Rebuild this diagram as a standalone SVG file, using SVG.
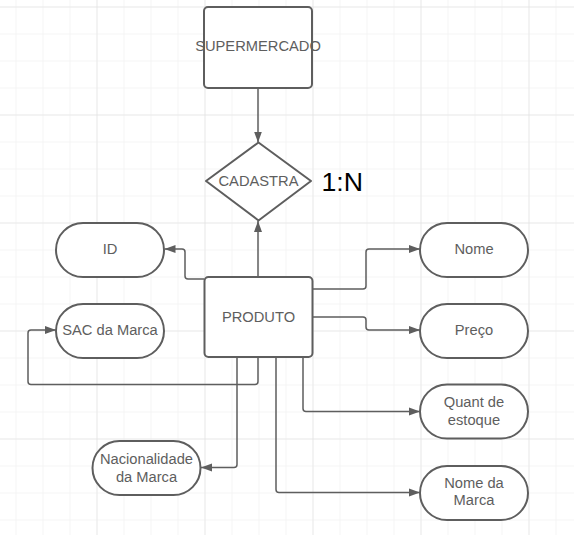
<svg xmlns="http://www.w3.org/2000/svg" width="574" height="535" viewBox="0 0 574 535">
<defs>
<pattern id="minor" x="15.5" y="6.5" width="27" height="27" patternUnits="userSpaceOnUse">
<path d="M0,0 V27 M0,0 H27" fill="none" stroke="#ececec" stroke-width="1"/>
</pattern>
<pattern id="major" x="96.5" y="6.5" width="108" height="108" patternUnits="userSpaceOnUse">
<path d="M0,0 V108 M0,0 H108" fill="none" stroke="#dedede" stroke-width="1"/>
</pattern>
<marker id="arr" markerWidth="12" markerHeight="9" refX="11" refY="4.5" orient="auto" markerUnits="userSpaceOnUse">
<path d="M0,0.5 L11,4.5 L0,8.5 z" fill="#5e5e5e"/>
</marker>
</defs>
<style>
.shape{fill:#ffffff;stroke:#5e5e5e;stroke-width:2}
.lbl{font-family:"Liberation Sans",Arial,sans-serif;font-size:14.7px;fill:#5e5e5e;text-anchor:middle}
.conn{fill:none;stroke:#5e5e5e;stroke-width:1.5;marker-end:url(#arr)}
</style>
<rect x="0" y="0" width="574" height="535" fill="#ffffff"/>
<rect x="0" y="0" width="574" height="535" fill="url(#minor)"/>
<rect x="0" y="0" width="574" height="535" fill="url(#major)"/>

<g id="connectors">
<path class="conn" d="M258,88 V142.5"/>
<path class="conn" d="M258,277 V221"/>
<path class="conn" d="M204,279 H188 Q185,279 185,276 V252 Q185,249 182,249 H164.5"/>
<path class="conn" d="M258,357 V381.5 Q258,384.5 255,384.5 H31 Q28,384.5 28,381.5 V333 Q28,330 31,330 H56"/>
<path class="conn" d="M312,289 H363 Q366,289 366,286 V252 Q366,249 369,249 H420"/>
<path class="conn" d="M312,317 H363 Q366,317 366,320 V327 Q366,330 369,330 H420"/>
<path class="conn" d="M303,357 V408.5 Q303,411.5 306,411.5 H420"/>
<path class="conn" d="M276,357 V489.5 Q276,492.5 279,492.5 H420"/>
<path class="conn" d="M237,357 V464.5 Q237,467.5 234,467.5 H201"/>
</g>

<g id="supermercado">
<rect class="shape" x="204" y="7" width="108" height="81" rx="4"/>
<text class="lbl" x="258" y="50.5">SUPERMERCADO</text>
</g>
<g id="cadastra">
<path class="shape" d="M258.5,142.5 L311,181 L258.5,220.5 L206,181 z" stroke-linejoin="round"/>
<text class="lbl" x="258.5" y="185.5">CADASTRA</text>
</g>
<g id="cardinalidade">
<text x="321.5" y="191" font-family="'Liberation Sans',Arial,sans-serif" font-size="26.7px" fill="#000000">1:N</text>
</g>
<g id="produto">
<rect class="shape" x="204.5" y="277" width="108" height="80" rx="4"/>
<text class="lbl" x="258.5" y="321.5">PRODUTO</text>
</g>
<g id="id">
<rect class="shape" x="56" y="223" width="108" height="54" rx="27"/>
<text class="lbl" x="110" y="253.5">ID</text>
</g>
<g id="sac">
<rect class="shape" x="56" y="304" width="108" height="54" rx="27"/>
<text class="lbl" x="110" y="334.5">SAC da Marca</text>
</g>
<g id="nome">
<rect class="shape" x="420" y="223" width="108" height="54" rx="27"/>
<text class="lbl" x="474" y="253.5">Nome</text>
</g>
<g id="preco">
<rect class="shape" x="420" y="304" width="108" height="54" rx="27"/>
<text class="lbl" x="474" y="334.5">Preço</text>
</g>
<g id="quant">
<rect class="shape" x="420" y="384.5" width="108" height="54" rx="27"/>
<text class="lbl" x="474" y="407">Quant de</text>
<text class="lbl" x="474" y="424.6">estoque</text>
</g>
<g id="nomemarca">
<rect class="shape" x="420" y="466" width="108" height="54" rx="27"/>
<text class="lbl" x="474" y="487.6">Nome da</text>
<text class="lbl" x="474" y="505.3">Marca</text>
</g>
<g id="nacionalidade">
<rect class="shape" x="92.5" y="441" width="108" height="54" rx="27"/>
<text class="lbl" x="146.5" y="464.3">Nacionalidade</text>
<text class="lbl" x="146.5" y="482">da Marca</text>
</g>
</svg>
